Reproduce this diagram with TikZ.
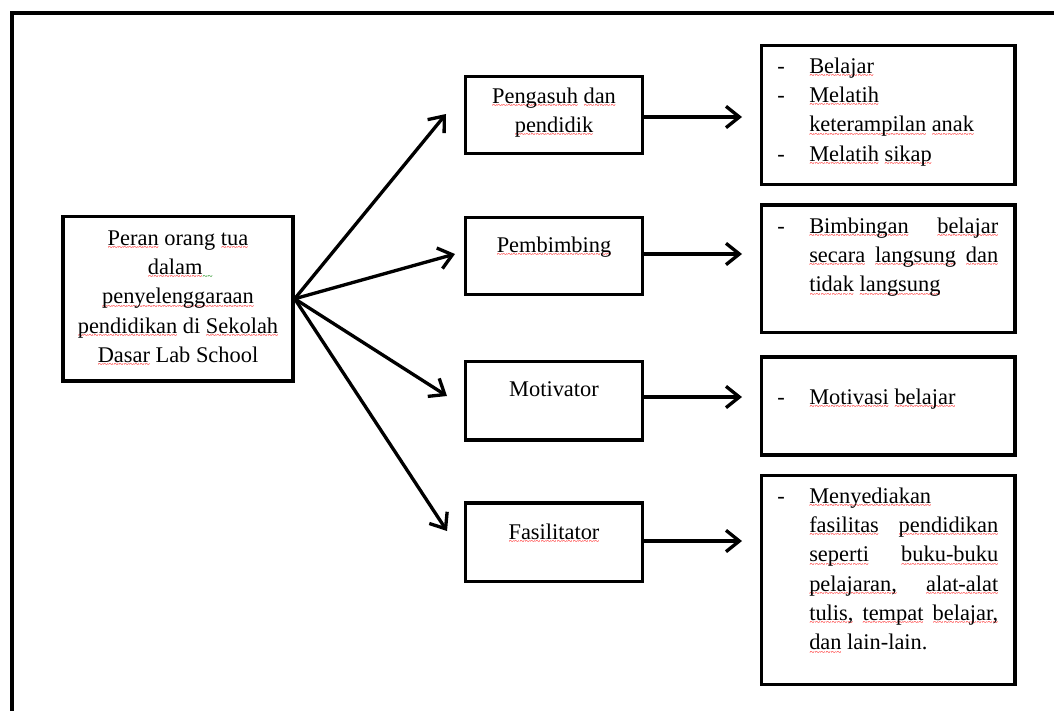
\documentclass[tikz,border=0pt]{standalone}
\usepackage{fontspec}
\setmainfont{Liberation Serif}
\usetikzlibrary{arrows.meta}
\newcommand\wv{\fontsize{7pt}{7pt}\selectfont\char"7E}
\newcommand\rw[1]{\leavevmode\setbox0\hbox{#1}\rlap{\lower4pt\hbox to \wd0{\color{red}\xleaders\hbox{\wv}\hfill}}\box0\relax}
\newcommand\gsq{\rlap{\lower4pt\hbox{\color{green!50!black}\wv\wv}}}
\newcommand\dsh{\leavevmode\makebox[24pt][l]{-}}
\newcommand\ind{\leavevmode\hspace*{24pt}}
\newcommand\jl[1]{\makebox[141.75pt][s]{#1}}
\begin{document}
\begin{tikzpicture}[x=0.75pt,y=-0.75pt,
  box/.style={draw, line width=2.5pt, inner sep=0pt, rectangle},
  txt/.style={inner sep=0pt, anchor=base, font=\fontsize{16.8pt}{22pt}\selectfont},
  arr/.style={line width=2.5pt, -{Straight Barb[length=10pt,width=16pt]}}]
\useasboundingbox (0,0) rectangle (1054,711);
\begin{scope}
\clip (0,0) rectangle (1054,711);
\draw[line width=3pt] (12,12.5) rectangle (1090,750);
\end{scope}
% boxes
\node[box, minimum width=172.5pt, minimum height=123.4pt] (main) at (178,298.75) {};
\node[box, minimum width=132.75pt, minimum height=57.75pt] (m1) at (554,115) {};
\node[box, minimum width=132.75pt, minimum height=57.75pt] (m2) at (554,256) {};
\node[box, minimum width=132.75pt, minimum height=58.9pt] (m3) at (554,400.75) {};
\node[box, minimum width=132.75pt, minimum height=58.9pt] (m4) at (554,542.25) {};
\node[box, minimum width=190.1pt, minimum height=104.25pt] (r1) at (888.25,115) {};
\node[box, minimum width=190.1pt, minimum height=95.6pt] (r2) at (888.25,268.75) {};
\node[box, minimum width=190.1pt, minimum height=73.5pt] (r3) at (888.25,406) {};
\node[box, minimum width=190.1pt, minimum height=156.75pt] (r4) at (888.25,580) {};
% texts
\node[txt] (tmain) at (178,245) {\parbox[t]{170pt}{\centering \rw{Peran} orang \rw{tua}\\ \rw{dalam}\gsq\kern4.2pt\\ \rw{penyelenggaraan}\\ \rw{pendidikan} di \rw{Sekolah}\\ \rw{Dasar} Lab School}};
\node[txt] (t1) at (554,103) {\parbox[t]{130pt}{\centering \rw{Pengasuh} \rw{dan}\\ \rw{pendidik}}};
\node[txt] (t2) at (554,252) {\rw{Pembimbing}};
\node[txt] (t3) at (554,396) {Motivator};
\node[txt] (t4) at (554,539) {\rw{Fasilitator}};
\node[txt, anchor=base west] (tr1) at (777,73) {\parbox[t]{180pt}{\raggedright \dsh\rw{Belajar}\\ \dsh\rw{Melatih}\\ \ind\rw{keterampilan} \rw{anak}\\ \dsh\rw{Melatih} \rw{sikap}}};
\node[txt, anchor=base west] (tr2) at (777,233) {\parbox[t]{180pt}{\raggedright \dsh\jl{\rw{Bimbingan} \rw{belajar}}\\ \ind\jl{\rw{secara} \rw{langsung} \rw{dan}}\\ \ind\rw{tidak} \rw{langsung}}};
\node[txt, anchor=base west] (tr3) at (777,404) {\dsh\rw{Motivasi} \rw{belajar}};
\node[txt, anchor=base west] (tr4) at (777,503) {\parbox[t]{180pt}{\raggedright \dsh\rw{Menyediakan}\\ \ind\jl{\rw{fasilitas} \rw{pendidikan}}\\ \ind\jl{\rw{seperti} \rw{buku-buku}}\\ \ind\jl{\rw{pelajaran,} \rw{alat-alat}}\\ \ind\jl{\rw{tulis,} \rw{tempat} \rw{belajar,}}\\ \ind\rw{dan} lain-lain.}};
% arrows
\coordinate (a1) at (446,114);
\coordinate (a2) at (455,254);
\coordinate (a3) at (447,396);
\coordinate (a4) at (447,531);
\draw[arr] (main.east) -- (a1);
\draw[arr] (main.east) -- (a2);
\draw[arr] (main.east) -- (a3);
\draw[arr] (main.east) -- (a4);
\coordinate (h1) at (742,117);
\coordinate (h2) at (742,254);
\coordinate (h3) at (742,397);
\coordinate (h4) at (742,541);
\draw[arr] (h1 -| m1.east) -- (h1);
\draw[arr] (h2 -| m2.east) -- (h2);
\draw[arr] (h3 -| m3.east) -- (h3);
\draw[arr] (h4 -| m4.east) -- (h4);
\end{tikzpicture}
\end{document}
